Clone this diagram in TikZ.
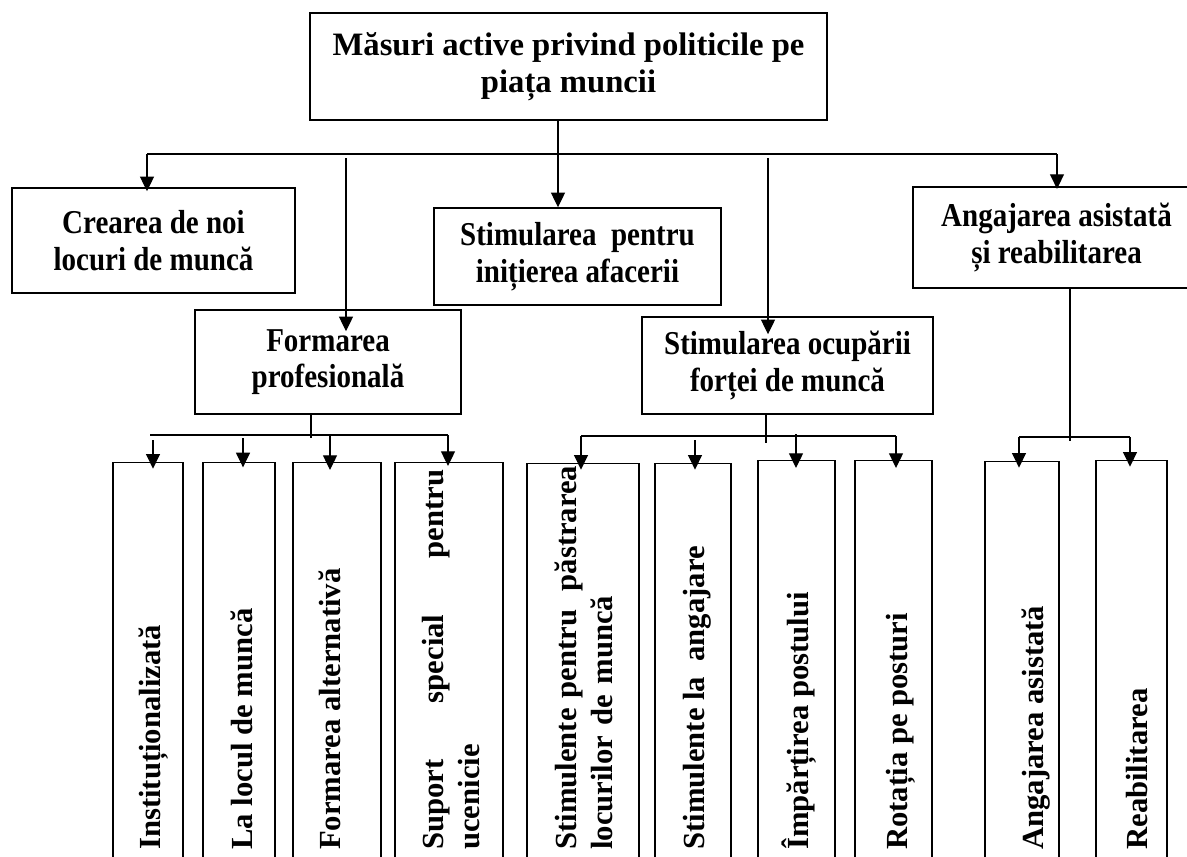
\documentclass[tikz,border=0pt]{standalone}
\usepackage{fontspec}
\setmainfont{Liberation Serif}
\newfontfamily\condfont{Liberation Serif}[FakeStretch=0.87]
\usetikzlibrary{arrows.meta}
\begin{document}
\begin{tikzpicture}[x=0.75pt,y=-0.75pt,
  box/.style={draw, line width=1.1pt, inner sep=0pt, align=center,
    font=\condfont\fontsize{25}{27.5}\selectfont\bfseries},
  vbox/.style={draw, line width=1.1pt, anchor=north, minimum height=306pt, inner sep=0pt},
  vtext/.style={rotate=90, anchor=base west, inner sep=0pt,
    font=\fontsize{23}{27}\selectfont\bfseries},
  conn/.style={line width=0.9pt},
  arr/.style={conn, -{Triangle[width=10.5pt,length=11pt]}}]
\useasboundingbox (0,0) rectangle (1187,856);
\clip (0,0) rectangle (1187,856);

% level 0 and 1 boxes
\node[box, minimum width=387.75pt, minimum height=80.25pt,
  font=\fontsize{24.5}{28}\selectfont\bfseries] (top) at (568.5,66.5)
  {Măsuri active privind politicile pe\\piața muncii};
\node[box, minimum width=212.25pt, minimum height=78.75pt] (crea) at (153.5,240.5)
  {Crearea de noi\\locuri de muncă};
\node[box, minimum width=215.25pt, minimum height=72.75pt] (init) at (577.5,256.5)
  {Stimularea\ \ pentru\\inițierea afacerii};
\node[box, minimum width=215.25pt, minimum height=75.75pt] (anga) at (1056.5,237.5)
  {Angajarea asistată\\și reabilitarea};
\node[box, minimum width=199.5pt, minimum height=78pt] (forma) at (328,362)
  {Formarea\\profesională};
\node[box, minimum width=218.25pt, minimum height=72.75pt] (stim) at (787.5,365.5)
  {Stimularea ocupării\\forței de muncă};

% bottom boxes
\node[vbox, minimum width=52.5pt]  (b1)  at (148,462) {};
\node[vbox, minimum width=54pt]    (b2)  at (239,462) {};
\node[vbox, minimum width=66pt]    (b3)  at (337,462) {};
\node[vbox, minimum width=81pt]    (b4)  at (449,462) {};
\node[vbox, minimum width=84pt]    (b5)  at (583,463) {};
\node[vbox, minimum width=57pt]    (b6)  at (693,463) {};
\node[vbox, minimum width=57.75pt] (b7)  at (796.5,460) {};
\node[vbox, minimum width=57.75pt] (b8)  at (893.5,460) {};
\node[vbox, minimum width=55.5pt]  (b9)  at (1022,461) {};
\node[vbox, minimum width=53.25pt] (b10) at (1131.5,460) {};

% vertical texts
\node[vtext] (t1) at (160,850) {Instituționalizată};
\node[vtext] (t2) at (252,850) {La locul de muncă};
\node[vtext] (t3) at (340,850) {Formarea alternativă};
\node[vtext, anchor=north west, text width=285pt, align=left] (t4) at (422,850)
  {Suport\hfill special\hfill pentru\\ucenicie};
\node[vtext, anchor=north west, text width=288pt, align=left] (t5) at (555,850)
  {Stimulente pentru\hfill păstrarea\\locurilor de muncă};
\node[vtext] (t6) at (704,850) {Stimulente la\ \ angajare};
\node[vtext] (t7) at (808,850) {Împărțirea postului};
\node[vtext] (t8) at (907,850) {Rotația pe posturi};
\node[vtext] (t9) at (1043,850) {Angajarea asistată};
\node[vtext] (t10) at (1147,850) {Reabilitarea};

% top bus
\coordinate (busL) at (147,154);
\coordinate (busR) at (1057,154);
\coordinate (jT) at (558,154);
\draw[conn] (busL) -- (busR);
\draw[conn] (top.south -| jT) -- (jT);
\draw[arr] (jT) -- (jT |- init.north);
\draw[arr] (busL) -- ([yshift=-3pt]busL |- crea.north);
\draw[arr] (busR) -- ([yshift=-2pt]busR |- anga.north);
\coordinate (vL) at (346,158);
\coordinate (vR) at (768,158);
\draw[arr] (vL) -- ([yshift=-16.5pt]vL |- forma.north);
\draw[arr] (vR) -- ([yshift=-13.5pt]vR |- stim.north);

% left group
\coordinate (lJ) at (311,435);
\coordinate (lA) at (150,435);
\coordinate (lB) at (448,435);
\draw[conn] (forma.south -| lJ) -- ([yshift=-2.5pt]lJ);
\draw[conn] (lA) -- (lB);
\coordinate (a1) at (153,440);
\coordinate (a2) at (243,438);
\coordinate (a3) at (330,435);
\coordinate (a4) at (448,435);
\draw[arr] (a1) -- ([yshift=-5pt]a1 |- b1.north);
\draw[arr] (a2) -- ([yshift=-4pt]a2 |- b2.north);
\draw[arr] (a3) -- ([yshift=-6pt]a3 |- b3.north);
\draw[arr] (a4) -- ([yshift=-3pt]a4 |- b4.north);

% right group
\coordinate (rJ) at (766,436);
\coordinate (rA) at (581,436);
\coordinate (rB) at (896,436);
\draw[conn] (stim.south -| rJ) -- ([yshift=-5pt]rJ);
\draw[conn] (rA) -- (rB);
\coordinate (c1) at (581,436);
\coordinate (c2) at (695,440);
\coordinate (c3) at (796,434);
\coordinate (c4) at (896,436);
\draw[arr] (c1) -- ([yshift=-5pt]c1 |- b5.north);
\draw[arr] (c2) -- ([yshift=-5pt]c2 |- b6.north);
\draw[arr] (c3) -- ([yshift=-6pt]c3 |- b7.north);
\draw[arr] (c4) -- ([yshift=-6pt]c4 |- b8.north);

% assisted employment group
\coordinate (gJ) at (1070,437);
\coordinate (gA) at (1019,437);
\coordinate (gB) at (1130,437);
\draw[conn] (anga.south -| gJ) -- ([yshift=-3pt]gJ);
\draw[conn] (gA) -- (gB);
\draw[arr] (gA) -- ([yshift=-5pt]gA |- b9.north);
\draw[arr] (gB) -- ([yshift=-5pt]gB |- b10.north);
\end{tikzpicture}
\end{document}
